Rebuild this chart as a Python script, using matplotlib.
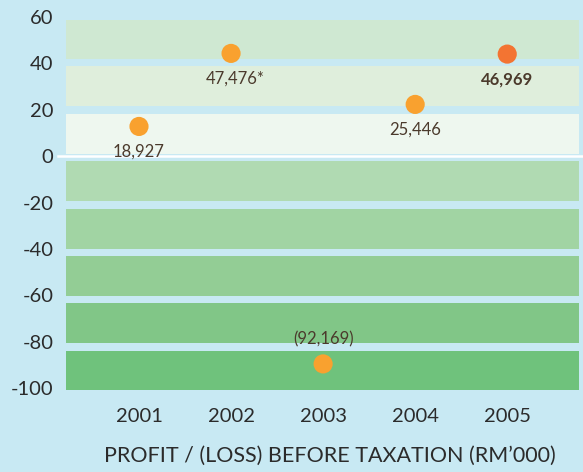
import matplotlib
matplotlib.use('Agg')
import matplotlib.pyplot as plt

plt.rcParams['font.family'] = ['Lato', 'DejaVu Sans']
plt.rcParams['axes.unicode_minus'] = False

years = ['2001', '2002', '2003', '2004', '2005']
values = [12.8, 44.3, -89.6, 22.3, 44.0]          # plotted position (RM'm)
labels = ['18,927', '47,476*', '(92,169)', '25,446', '46,969']
label_above = [False, False, True, False, False]
label_bold = [False, False, False, False, True]
point_colors = ['#f9a12f', '#f9a12f', '#f9a12f', '#f9a12f', '#f37432']

# background band edges and colours
band_lo = [41.8, 21.7, 1.0, -19.4, -40.0, -60.3, -80.6, -101.0]
band_hi = [58.9, 38.9, 18.2, -2.2, -22.8, -43.1, -63.4, -84.0]
band_colors = ['#cfe8d2', '#dfeedc', '#eef7ef', '#b0dab2', '#a1d4a3',
               '#93cd95', '#81c687', '#6fc27c']

bg = '#c8e9f3'
fig = plt.figure(figsize=(5.83, 4.72), dpi=100, facecolor=bg)
ax = fig.add_axes([0.1132, 0.173, 0.88, 0.791])
ax.set_facecolor(bg)

for lo, hi, c in zip(band_lo, band_hi, band_colors):
    ax.axhspan(lo, hi, color=c, lw=0, zorder=0)

ax.axhline(0, xmin=-0.016, xmax=1.02, color='white', lw=1.8, clip_on=False, zorder=1)

x = list(range(len(years)))
ax.scatter(x, values, s=190, c=point_colors, edgecolors='none', zorder=3)

for i in x:
    off = 18 if label_above[i] else -18
    dx = 3 if labels[i].endswith('*') else 0
    ax.annotate(labels[i], (x[i], values[i]), xytext=(dx, off), textcoords='offset points',
                ha='center', va='center', fontsize=12, color='#4b3a2c',
                fontweight='bold' if label_bold[i] else 'normal', zorder=4)

ax.set_xlim(-0.793, 4.78)
ax.set_ylim(-101, 60)
ax.set_yticks(range(-100, 61, 20))
ax.set_xticks(x)
ax.set_xticklabels(years)
ax.tick_params(axis='both', length=0, labelsize=14.5, colors='#2b2b2b')
ax.tick_params(axis='y', pad=9)
ax.tick_params(axis='x', pad=13)
for s in ax.spines.values():
    s.set_visible(False)

fig.text(330 / 583, 1 - 456 / 472, 'PROFIT / (LOSS) BEFORE TAXATION (RM\u2019000)',
         ha='center', va='center', fontsize=15.5, color='#2b2b2b')

fig.savefig('out.png', dpi=100, facecolor=bg)
